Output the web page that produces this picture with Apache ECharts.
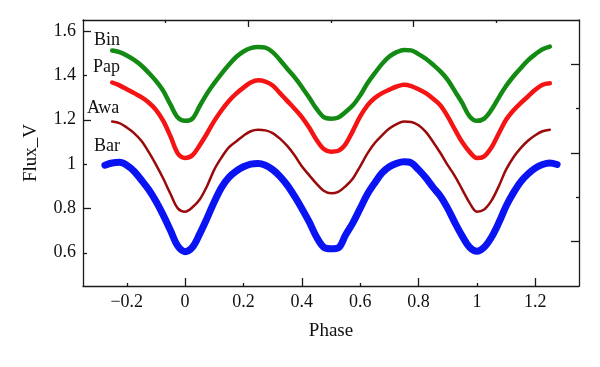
<!DOCTYPE html>
<html>
<head>
<meta charset="utf-8">
<script src="https://cdn.jsdelivr.net/npm/echarts@6/dist/echarts.min.js"></script>
<style>
  html, body { margin: 0; padding: 0; background: #fff; }
  #chart { width: 600px; height: 367px; }
</style>
</head>
<body>
<div id="chart"></div>
<script>
// ---- data ----
const seriesNames = ['Bin', 'Pap', 'Awa', 'Bar'];

const phase = [
  -0.25, -0.225, -0.2, -0.175, -0.15, -0.125, -0.1, -0.075, -0.05, -0.025,
  0, 0.025, 0.05, 0.075, 0.1, 0.125, 0.15, 0.175, 0.2, 0.225,
  0.25, 0.275, 0.3, 0.325, 0.35, 0.375, 0.4, 0.425, 0.45, 0.475,
  0.5, 0.525, 0.55, 0.575, 0.6, 0.625, 0.65, 0.675, 0.7, 0.725,
  0.75, 0.775, 0.8, 0.825, 0.85, 0.875, 0.9, 0.925, 0.95, 0.975,
  1.0, 1.025, 1.05, 1.075, 1.1, 1.125, 1.15, 1.175, 1.2, 1.225, 1.25
];
const phaseBar = [-0.275].concat(phase, [1.275]);

const fluxBin = [
  1.512, 1.505, 1.490, 1.470, 1.445, 1.412, 1.375, 1.330, 1.268, 1.210,
  1.195, 1.205, 1.262, 1.318, 1.365, 1.408, 1.448, 1.483, 1.508, 1.523,
  1.528, 1.525, 1.505, 1.470, 1.430, 1.392, 1.348, 1.300, 1.250, 1.212,
  1.205, 1.210, 1.235, 1.265, 1.310, 1.365, 1.410, 1.452, 1.485, 1.505,
  1.515, 1.513, 1.496, 1.475, 1.448, 1.418, 1.380, 1.328, 1.275, 1.215,
  1.195, 1.205, 1.245, 1.300, 1.352, 1.395, 1.432, 1.468, 1.495, 1.518, 1.530
];
const fluxPap = [
  1.368, 1.355, 1.338, 1.320, 1.302, 1.278, 1.245, 1.195, 1.125, 1.048,
  1.028, 1.040, 1.085, 1.138, 1.195, 1.243, 1.285, 1.318, 1.345, 1.368,
  1.378, 1.372, 1.355, 1.320, 1.285, 1.250, 1.212, 1.165, 1.110, 1.068,
  1.056, 1.060, 1.090, 1.150, 1.215, 1.265, 1.298, 1.320, 1.336, 1.350,
  1.358, 1.352, 1.338, 1.320, 1.295, 1.265, 1.215, 1.155, 1.098, 1.055,
  1.027, 1.035, 1.075, 1.138, 1.200, 1.242, 1.275, 1.305, 1.335, 1.358, 1.365
];
const fluxAwa = [
  1.192, 1.185, 1.165, 1.140, 1.105, 1.055, 0.998, 0.935, 0.865, 0.800,
  0.785, 0.805, 0.840, 0.900, 0.975, 1.030, 1.075, 1.102, 1.128, 1.148,
  1.155, 1.152, 1.140, 1.115, 1.082, 1.040, 0.990, 0.950, 0.912, 0.880,
  0.868, 0.875, 0.900, 0.935, 0.990, 1.048, 1.095, 1.130, 1.160, 1.180,
  1.192, 1.190, 1.175, 1.145, 1.100, 1.050, 0.995, 0.945, 0.885, 0.825,
  0.785, 0.795, 0.835, 0.900, 0.975, 1.030, 1.072, 1.105, 1.130, 1.148, 1.155
];
const fluxBar = [
  0.995,
  1.005, 1.008, 0.995, 0.968, 0.928, 0.885, 0.832, 0.770, 0.700, 0.630,
  0.605, 0.625, 0.685, 0.755, 0.830, 0.895, 0.940, 0.968, 0.988, 1.000,
  1.003, 0.995, 0.975, 0.945, 0.905, 0.855, 0.800, 0.740, 0.672, 0.625,
  0.618, 0.622, 0.680, 0.735, 0.800, 0.865, 0.915, 0.960, 0.988, 1.003,
  1.010, 1.005, 0.975, 0.938, 0.895, 0.855, 0.800, 0.735, 0.675, 0.625,
  0.607, 0.625, 0.670, 0.735, 0.810, 0.870, 0.920, 0.955, 0.982, 0.998, 1.005,
  0.998
];

// tick labels / tick positions
const xTickLabels = [-0.2, 0, 0.2, 0.4, 0.6, 0.8, 1, 1.2];
const xLongTicks = [0, 0.4, 0.8, 1.2];
const xShortTicks = [-0.2, 0.2, 0.6, 1.0];
const yTickLabels = [0.6, 0.8, 1, 1.2, 1.4, 1.6];
const yLongTicks = [0.8, 1.2, 1.6];
const yShortTicks = [0.6, 1.0, 1.4];
const topLongTicks = [2, 4];
const topShortTicks = [1, 3, 5];
const rightLongTicks = [1, 3, 5];
const rightShortTicks = [2, 4];

// ---- chart ----
const FONT = '"Liberation Serif", "Times New Roman", serif';
const AX = '#1a1a1a';
const colors = ['#138a13', '#f51414', '#9b0a0a', '#0a14f2'];
const widths = [4.5, 4.5, 2.5, 7];

function zip(xs, ys) { return xs.map((x, i) => [x, ys[i]]); }
const seriesData = [
  zip(phase, fluxBin),
  zip(phase, fluxPap),
  zip(phase, fluxAwa),
  zip(phaseBar, fluxBar)
];

function fmtX(v) {
  const a = Math.round(Math.abs(v) * 10) / 10;
  return (v < -1e-9 ? '\u2212' : '') + String(a);
}

const axLine = { show: true, onZero: false, lineStyle: { color: AX, width: 1.3 } };
const noLine = { show: false, onZero: false };
const noSplit = { show: false };
const tickStyle = { color: AX, width: 1.3 };

const xAxes = [
  {
    type: 'value', position: 'bottom', min: -0.35, max: 1.35,
    axisLine: axLine,
    axisTick: { show: true, inside: true, length: 3, customValues: xShortTicks, lineStyle: tickStyle },
    axisLabel: { customValues: xTickLabels, formatter: fmtX, color: '#111', fontFamily: FONT, fontSize: 18, margin: 7 },
    splitLine: noSplit,
    name: 'Phase', nameLocation: 'middle', nameGap: 36,
    nameTextStyle: { color: '#111', fontFamily: FONT, fontSize: 19 }
  },
  {
    type: 'value', position: 'bottom', min: -0.35, max: 1.35,
    axisLine: noLine,
    axisTick: { show: true, inside: true, length: 8, customValues: xLongTicks, lineStyle: tickStyle },
    axisLabel: { show: false }, splitLine: noSplit
  },
  {
    type: 'value', position: 'top', min: 0, max: 6,
    axisLine: axLine,
    axisTick: { show: true, inside: true, length: 3, customValues: topShortTicks, lineStyle: tickStyle },
    axisLabel: { show: false }, splitLine: noSplit
  },
  {
    type: 'value', position: 'top', min: 0, max: 6,
    axisLine: noLine,
    axisTick: { show: true, inside: true, length: 7, customValues: topLongTicks, lineStyle: tickStyle },
    axisLabel: { show: false }, splitLine: noSplit
  }
];

const yAxes = [
  {
    type: 'value', position: 'left', min: 0.45, max: 1.65,
    axisLine: axLine,
    axisTick: { show: true, inside: true, length: 4, customValues: yShortTicks, lineStyle: tickStyle },
    axisLabel: { customValues: yTickLabels, color: '#111', fontFamily: FONT, fontSize: 18, margin: 7 },
    splitLine: noSplit,
    name: 'Flux_V', nameLocation: 'middle', nameGap: 42,
    nameTextStyle: { color: '#111', fontFamily: FONT, fontSize: 19 }
  },
  {
    type: 'value', position: 'left', min: 0.45, max: 1.65,
    axisLine: noLine,
    axisTick: { show: true, inside: true, length: 8, customValues: yLongTicks, lineStyle: tickStyle },
    axisLabel: { show: false }, splitLine: noSplit
  },
  {
    type: 'value', position: 'right', min: 0, max: 6,
    axisLine: axLine,
    axisTick: { show: true, inside: true, length: 3, customValues: rightShortTicks, lineStyle: tickStyle },
    axisLabel: { show: false }, splitLine: noSplit
  },
  {
    type: 'value', position: 'right', min: 0, max: 6,
    axisLine: noLine,
    axisTick: { show: true, inside: true, length: 8, customValues: rightLongTicks, lineStyle: tickStyle },
    axisLabel: { show: false }, splitLine: noSplit
  }
];

const series = seriesNames.map((name, i) => ({
  name: name,
  type: 'line',
  xAxisIndex: 0,
  yAxisIndex: 0,
  data: seriesData[i],
  smooth: 0.35,
  showSymbol: false,
  lineStyle: { color: colors[i], width: widths[i], cap: 'round', join: 'round' },
  itemStyle: { color: colors[i] },
  z: 2 + i,
  animation: false
}));

const labelPos = [[94, 40], [93, 67], [87, 108], [94, 146]];
const graphics = seriesNames.map((name, i) => ({
  type: 'text',
  x: labelPos[i][0],
  y: labelPos[i][1],
  style: {
    text: name,
    font: '18px ' + FONT,
    fill: '#111',
    align: 'left',
    verticalAlign: 'middle'
  },
  z: 10
}));

const chart = echarts.init(document.getElementById('chart'), null, { renderer: 'canvas' });
chart.setOption({
  animation: false,
  backgroundColor: '#ffffff',
  grid: { left: 83, right: 21, top: 20, bottom: 81, containLabel: false },
  xAxis: xAxes,
  yAxis: yAxes,
  series: series,
  graphic: graphics
});
</script>
</body>
</html>
